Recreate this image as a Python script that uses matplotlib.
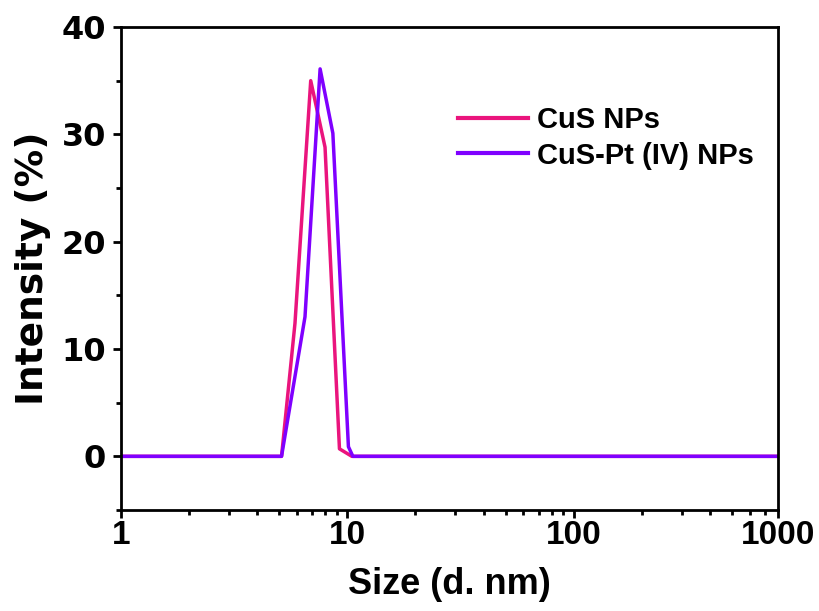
import matplotlib
matplotlib.use('Agg')
import matplotlib.pyplot as plt
from matplotlib.ticker import FixedLocator, MultipleLocator, NullFormatter

# DLS size distribution
cus_size = [1, 5.12, 5.87, 6.89, 7.97, 9.23, 10.47, 800]
cus_int = [0, 0, 12.4, 35.0, 28.8, 0.7, 0, 0]

cuspt_size = [1, 5.12, 6.50, 7.58, 8.63, 10.11, 10.58, 800]
cuspt_int = [0, 0, 13.0, 36.1, 30.1, 0.9, 0, 0]

x_ticks = [1, 10, 100, 800]
x_ticklabels = ['1', '10', '100', '1000']
y_ticks = [0, 10, 20, 30, 40]

plt.rcParams['font.family'] = ['Liberation Sans', 'DejaVu Sans']
plt.rcParams['font.weight'] = 'bold'

fig = plt.figure(figsize=(8.2, 6.11), dpi=100)
ax = fig.add_axes([0.1476, 0.1653, 0.8012, 0.7905])

ax.plot(cus_size, cus_int, color='#EA147D', lw=2.5, label='CuS NPs')
ax.plot(cuspt_size, cuspt_int, color='#7F00FF', lw=2.5, label='CuS-Pt (IV) NPs')

ax.set_xscale('log')
ax.set_xlim(1, 800)
ax.set_ylim(-5, 40)

ax.xaxis.set_major_locator(FixedLocator(x_ticks))
ax.set_xticklabels(x_ticklabels)
ax.xaxis.set_minor_locator(FixedLocator(
    [m * d for d in (1, 10, 100) for m in range(2, 10) if m * d < 800]))
ax.xaxis.set_minor_formatter(NullFormatter())
ax.set_yticks(y_ticks)
ax.yaxis.set_minor_locator(MultipleLocator(5))

for s in ax.spines.values():
    s.set_linewidth(2.0)
ax.tick_params(which='major', direction='out', length=6, width=2.0)
ax.tick_params(which='minor', direction='out', length=3.5, width=2.0)
ax.tick_params(axis='y', labelsize=23, pad=5)
ax.tick_params(axis='x', labelsize=24, pad=1)
for lab in ax.get_yticklabels():
    lab.set_family(['DejaVu Sans'])
    lab.set_fontweight('bold')

ax.set_xlabel('Size (d. nm)', fontsize=26, fontweight='bold', labelpad=12)
ax.set_ylabel('Intensity (%)', fontsize=27, fontweight='bold',
              family=['DejaVu Sans'], labelpad=7)

leg = ax.legend(loc='upper left', bbox_to_anchor=(0.5585, 0.826),
                bbox_transform=fig.transFigure, frameon=False, fontsize=21,
                handlelength=2.4, handletextpad=0.3, labelspacing=0.25,
                borderpad=0, borderaxespad=0)
for line in leg.get_lines():
    line.set_linewidth(3)

fig.savefig('out.png', dpi=100)
